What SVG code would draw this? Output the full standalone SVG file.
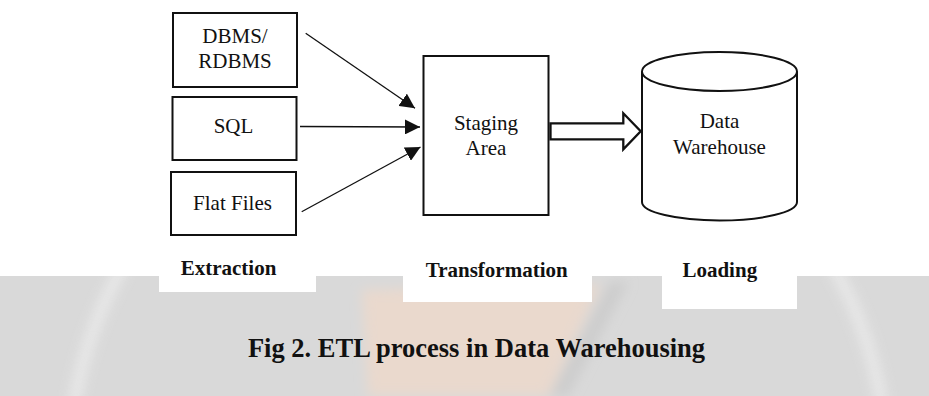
<svg xmlns="http://www.w3.org/2000/svg" width="929" height="396" viewBox="0 0 929 396">
  <style>
    .box { fill: #ffffff; stroke: #111111; stroke-width: 2; }
    .node-text { font-family: "Liberation Serif", "Times New Roman", serif; font-size: 21px; fill: #111111; text-anchor: middle; }
    .label { font-family: "Liberation Serif", "Times New Roman", serif; font-size: 21px; font-weight: bold; fill: #111111; text-anchor: middle; }
    .caption { font-family: "Liberation Serif", "Times New Roman", serif; font-size: 26.5px; font-weight: bold; fill: #111111; text-anchor: middle; }
    .conn { stroke: #111111; stroke-width: 1.3; fill: none; marker-end: url(#arrow); }
  </style>
  <defs>
    <marker id="arrow" markerUnits="userSpaceOnUse" markerWidth="15" markerHeight="15" refX="15" refY="7.5" orient="auto">
      <path d="M0,0 L15,7.5 L0,15 z" fill="#111111"/>
    </marker>
    <filter id="soft" x="-20%" y="-20%" width="140%" height="140%">
      <feGaussianBlur stdDeviation="6"/>
    </filter>
    <clipPath id="greyArea">
      <rect x="0" y="276" width="929" height="120"/>
    </clipPath>
  </defs>

  <!-- background -->
  <g id="background">
    <rect x="0" y="0" width="929" height="396" fill="#ffffff"/>
    <g clip-path="url(#greyArea)">
      <rect x="0" y="276" width="929" height="120" fill="#d9d9d9"/>
      <g filter="url(#soft)">
        <path d="M362,290 L600,285 L548,396 L368,396 Z" fill="#efd8ca" opacity="0.75"/>
        <path d="M610,282 L628,282 L568,396 L550,396 Z" fill="#c4c4c4" opacity="0.6"/>
      </g>
      <circle cx="478" cy="469" r="409" fill="none" stroke="#ececec" stroke-width="12" opacity="0.8" filter="url(#soft)"/>
    </g>
    <rect x="159" y="270" width="157" height="22" fill="#ffffff"/>
    <rect x="403" y="270" width="189" height="32" fill="#ffffff"/>
    <rect x="662" y="270" width="135" height="39" fill="#ffffff"/>
  </g>

  <!-- nodes -->
  <g id="dbms">
    <rect class="box" x="173" y="13" width="124" height="74"/>
    <text class="node-text" x="235" y="43.3">DBMS/</text>
    <text class="node-text" x="235" y="68.3">RDBMS</text>
  </g>
  <g id="sql">
    <rect class="box" x="172.5" y="97" width="124" height="63"/>
    <text class="node-text" x="233.5" y="133.3">SQL</text>
  </g>
  <g id="flatfiles">
    <rect class="box" x="171" y="172" width="125" height="63"/>
    <text class="node-text" x="232.5" y="210">Flat Files</text>
  </g>
  <g id="staging">
    <rect class="box" x="423.5" y="56" width="125" height="159"/>
    <text class="node-text" x="486" y="129.5">Staging</text>
    <text class="node-text" x="486" y="155">Area</text>
  </g>
  <g id="warehouse">
    <path class="box" d="M642,71.5 V202 A77.5,18.5 0 0 0 797,202 V71.5"/>
    <ellipse class="box" cx="719.5" cy="71.5" rx="77.5" ry="19.5"/>
    <text class="node-text" x="719.5" y="128.3">Data</text>
    <text class="node-text" x="719.5" y="154.3">Warehouse</text>
  </g>

  <!-- connectors -->
  <g id="connectors">
    <line class="conn" x1="305.7" y1="33.3" x2="415" y2="108.3"/>
    <line class="conn" x1="300" y1="126.5" x2="420" y2="127"/>
    <line class="conn" x1="301.7" y1="211.7" x2="420.5" y2="147"/>
    <path d="M550.5,123.3 H623.3 V113.3 L640.7,131.3 L623.3,149.3 V139.3 H550.5 Z" fill="#ffffff" stroke="#111111" stroke-width="2.3" stroke-linejoin="miter"/>
  </g>

  <!-- phase labels -->
  <g id="label-extraction">
    <text class="label" x="228.5" y="275">Extraction</text>
  </g>
  <g id="label-transformation">
    <text class="label" x="496.7" y="276.5">Transformation</text>
  </g>
  <g id="label-loading">
    <text class="label" x="719.8" y="277">Loading</text>
  </g>

  <!-- caption -->
  <g id="caption">
    <text class="caption" x="476.5" y="356.5">Fig 2. ETL process in Data Warehousing</text>
  </g>
</svg>
